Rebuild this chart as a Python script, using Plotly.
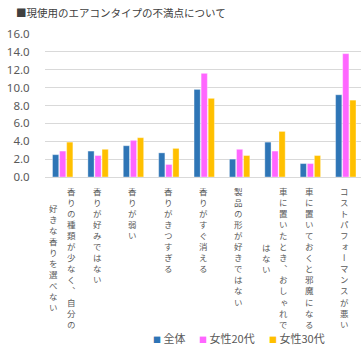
import plotly.graph_objects as go

# ---------------- data ----------------
categories = [
    "香りの種類が少なく、自分の好きな香りを選べない",
    "香りが好みではない",
    "香りが弱い",
    "香りがきつすぎる",
    "香りがすぐ消える",
    "製品の形が好きではない",
    "車に置いたとき、おしゃれではない",
    "車に置いておくと邪魔になる",
    "コストパフォーマンスが悪い",
]
# how each category label wraps in the vertical layout (first column on the right)
label_columns = [
    ["香りの種類が少なく、自分の", "好きな香りを選べない"],
    ["香りが好みではない"],
    ["香りが弱い"],
    ["香りがきつすぎる"],
    ["香りがすぐ消える"],
    ["製品の形が好きではない"],
    ["車に置いたとき、おしゃれで", "はない"],
    ["車に置いておくと邪魔になる"],
    ["コストパフォーマンスが悪い"],
]
series_names = ["全体", "女性20代", "女性30代"]
values_all = [2.5, 2.9, 3.5, 2.7, 9.8, 2.0, 3.9, 1.5, 9.2]
values_f20 = [2.9, 2.4, 4.1, 1.4, 11.6, 3.1, 2.9, 1.5, 13.8]
values_f30 = [3.9, 3.1, 4.4, 3.2, 8.8, 2.4, 5.1, 2.4, 8.6]
series_colors = ["#2E75B6", "#FF66FF", "#FFC000"]
y_ticks = [0, 2, 4, 6, 8, 10, 12, 14, 16]
title_text = "■現使用のエアコンタイプの不満点について"

# ---------------- layout geometry ----------------
W, H = 361, 347
L, T, B, R = 44.6, 33.8, 170.3, 0
PW = W - L - R
PH = H - T - B


def px(x):
    return (x - L) / PW


def py(y):
    return (H - B - y) / PH


JP = "Noto Sans CJK JP"
GRAY = "#595959"
LABEL_SIZE = 8.5
PITCH = LABEL_SIZE * 1.3  # plotly line spacing

fig = go.Figure()
for name, vals, col in zip(series_names, [values_all, values_f20, values_f30], series_colors):
    fig.add_trace(go.Bar(
        x=categories, y=vals, name=name,
        marker=dict(color=col, line=dict(color="rgba(255,255,255,0.6)", width=0.6)),
        showlegend=False,
    ))

annotations = []
VSTYLE = "font-feature-settings:'vert' 1"
# vertical category labels: one stacked column of characters per text line
for i, cols in enumerate(label_columns):
    maxlen = max(len(c) for c in cols)
    offsets = [-0.8] if len(cols) == 1 else [8.8, -8.8]
    for j, col in enumerate(cols):
        start = (maxlen - len(col)) / 2.0
        txt = "<br>".join(f'<span style="{VSTYLE}">{ch}</span>' for ch in col)
        annotations.append(dict(
            x=categories[i], xref="x", y=py(183.0 + start * PITCH), yref="paper",
            text=txt, showarrow=False, xanchor="center", yanchor="top",
            xshift=offsets[j], align="center",
            font=dict(family=JP, size=LABEL_SIZE, color=GRAY),
        ))

# legend drawn as text entries
legend_x = [151.0, 196.5, 266.5]
for name, col, lx in zip(series_names, series_colors, legend_x):
    annotations.append(dict(
        x=px(lx), xref="paper", y=py(337.8), yref="paper",
        text=f"<span style='color:{col};font-size:8px'>■</span> {name}",
        showarrow=False, xanchor="left", yanchor="middle",
        font=dict(family=JP, size=11, color=GRAY),
    ))

fig.update_layout(
    width=W, height=H, autosize=False,
    margin=dict(l=L, r=R, t=T, b=B, pad=0),
    paper_bgcolor="white", plot_bgcolor="white",
    barmode="group", bargap=0.40, bargroupgap=0.12,
    title=dict(text=title_text, x=16 / W, xanchor="left", y=1 - 13 / H, yanchor="middle",
               font=dict(family=JP, size=10.5, color="#404040")),
    xaxis=dict(range=[-0.5, 8.43], showticklabels=False, showgrid=False, zeroline=False,
               showline=False, ticks=""),
    yaxis=dict(range=[0, 16], tickvals=y_ticks, tickformat=".1f", showgrid=True,
               gridcolor="#D9D9D9", gridwidth=1, zeroline=True, zerolinecolor="#D9D9D9",
               zerolinewidth=1, showline=False, ticks="outside", ticklen=12,
               tickcolor="rgba(0,0,0,0)",
               tickfont=dict(family="Noto Sans", size=11.5, color=GRAY)),
    annotations=annotations,
    showlegend=False,
)

fig.write_html("out.html")
